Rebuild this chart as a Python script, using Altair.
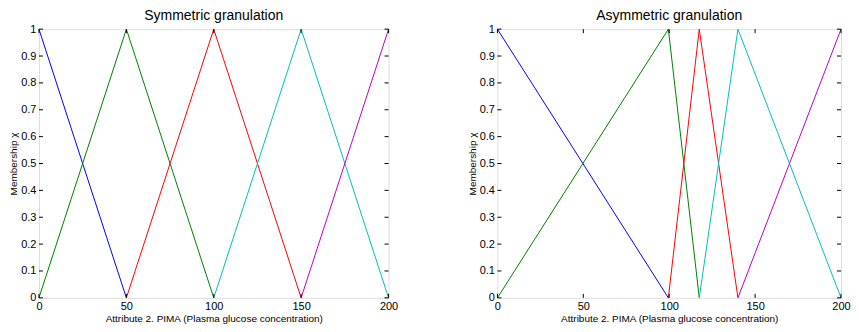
import altair as alt
import pandas as pd

# --- data -------------------------------------------------------------
sym_centers = [0, 50, 100, 150, 200]
asym_centers = [0, 99.5, 117.5, 140, 200]
series_names = ["G1", "G2", "G3", "G4", "G5"]
series_colors = ["#0000FF", "#008000", "#FF0000", "#00BFBF", "#BF00BF"]
x_ticks = [0, 50, 100, 150, 200]
y_ticks = [0, 0.1, 0.2, 0.3, 0.4, 0.5, 0.6, 0.7, 0.8, 0.9, 1.0]
titles = ["Symmetric granulation", "Asymmetric granulation"]
x_title = "Attribute 2. PIMA (Plasma glucose concentration)"
y_title = "Membership \u03c7"


def tri_rows(centers):
    rows = []
    n = len(centers)
    for i, c in enumerate(centers):
        if i > 0:
            rows.append({"s": series_names[i], "x": centers[i - 1], "y": 0})
        rows.append({"s": series_names[i], "x": c, "y": 1})
        if i < n - 1:
            rows.append({"s": series_names[i], "x": centers[i + 1], "y": 0})
    return pd.DataFrame(rows)


H = 269
FONT = "Liberation Sans"

xaxis = alt.Axis(values=x_ticks, title=x_title, tickSize=0, labelPadding=3,
                 grid=False, domain=False, labelFontSize=11, titleFontSize=10,
                 titleFontWeight="normal", titlePadding=2, labelColor="black",
                 titleColor="black", labelFlush=False)
yaxis = alt.Axis(values=y_ticks, title=y_title, tickSize=0, labelPadding=3,
                 grid=False, domain=False, labelFontSize=11, titleFontSize=10,
                 titleFontWeight="normal", titlePadding=2, labelColor="black",
                 titleColor="black", labelExpr="format(datum.value, '.1~f')")
xs = alt.Scale(domain=[0, 200], nice=False, zero=False)
ys = alt.Scale(domain=[0, 1], nice=False)

X = alt.X("x:Q", scale=xs, axis=xaxis)
Y = alt.Y("y:Q", scale=ys, axis=yaxis)

xt = pd.DataFrame({"x": x_ticks})
yt = pd.DataFrame({"y": y_ticks})


def panel(centers, title, W):
    lines = alt.Chart(tri_rows(centers)).mark_line(strokeWidth=1).encode(
        x=X, y=Y,
        color=alt.Color("s:N", scale=alt.Scale(domain=series_names, range=series_colors), legend=None),
    )
    t_top = alt.Chart(xt).mark_rule(color="black", strokeWidth=1).encode(x=X, y=alt.value(0), y2=alt.value(4))
    t_bot = alt.Chart(xt).mark_rule(color="black", strokeWidth=1).encode(x=X, y=alt.value(H), y2=alt.value(H - 4))
    t_left = alt.Chart(yt).mark_rule(color="black", strokeWidth=1).encode(y=Y, x=alt.value(0), x2=alt.value(4))
    t_right = alt.Chart(yt).mark_rule(color="black", strokeWidth=1).encode(y=Y, x=alt.value(W), x2=alt.value(W - 4))
    return alt.layer(lines, t_top, t_bot, t_left, t_right).properties(
        width=W, height=H,
        title=alt.TitleParams(title, fontSize=14, fontWeight="normal", font=FONT, color="black", offset=0),
    )


chart = alt.hconcat(panel(sym_centers, titles[0], 350), panel(asym_centers, titles[1], 344), spacing=68).configure_view(
    stroke="black", strokeWidth=1.5
).configure(font=FONT, padding=0).configure_axis(labelFont=FONT, titleFont=FONT)

chart.save("out.html", embed_options={"renderer": "svg", "actions": False})
